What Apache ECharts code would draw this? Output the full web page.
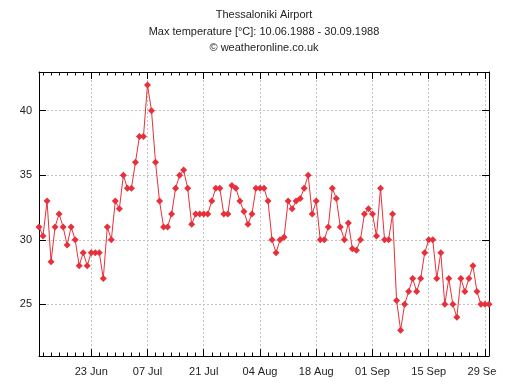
<!DOCTYPE html>
<html><head><meta charset="utf-8">
<script src="https://cdn.jsdelivr.net/npm/echarts@6/dist/echarts.min.js"></script>
<style>html,body{margin:0;padding:0;background:#fff;} #c{width:497px;height:386px;}</style>
</head><body><div id="c"></div>
<script>
const titleLines = ['Thessaloniki Airport', 'Max temperature [°C]: 10.06.1988 - 30.09.1988', '© weatheronline.co.uk'];
const startYear = 1988, startMonth = 5, startDay = 10; // 10 June 1988
const maxTemp = [
  31, 30.3, 33, 28.3, 31, 32, 31, 29.6, 31, 30, 28, 29, 28, 29, 29, 29, 27, 31, 30, 33,
  32.4, 35, 34, 34, 36, 38, 38, 42, 40, 36, 33, 31, 31, 32, 34, 35, 35.4, 34, 31.2, 32,
  32, 32, 32, 33, 34, 34, 32, 32, 34.2, 34, 33, 32.2, 31.2, 32, 34, 34, 34, 33, 30, 29,
  30, 30.2, 33, 32.4, 33, 33.2, 34, 35, 32, 33, 30, 30, 31, 34, 33.2, 31, 30, 31.3, 29.3, 29.2,
  30, 32, 32.4, 32, 30.3, 34, 30, 30, 32, 25.3, 23, 25, 26, 27, 26, 27, 29, 30, 30, 27,
  29, 25, 27, 25, 24, 27, 26, 27, 28, 26, 25, 25, 25
];
const xTickLabels = ['23 Jun', '07 Jul', '21 Jul', '04 Aug', '18 Aug', '01 Sep', '15 Sep', '29 Sep'];
const yTickValues = [25, 30, 35, 40];
const yMin = 21, yMax = 43;
const monthNames = ['Jan','Feb','Mar','Apr','May','Jun','Jul','Aug','Sep','Oct','Nov','Dec'];

const categories = maxTemp.map((_, i) => {
  const d = new Date(Date.UTC(startYear, startMonth, startDay + i));
  return String(d.getUTCDate()).padStart(2, '0') + ' ' + monthNames[d.getUTCMonth()];
});
const isMajor = (i) => xTickLabels.indexOf(categories[i]) >= 0;
const isMinor = (i) => i % 2 === 1;

const FONT = '"Liberation Sans", Arial, sans-serif';
const grid = { left: 39, right: 8, top: 72, bottom: 30, containLabel: false, outerBoundsMode: 'none' };
const axisLine = { show: true, lineStyle: { color: '#000', width: 1 } };
const dotted = { color: '#c4c4c4', width: 1, type: [2, 2] };

const chart = echarts.init(document.getElementById('c'), null, { renderer: 'canvas' });
chart.setOption({
  animation: false,
  backgroundColor: '#fff',
  title: {
    text: titleLines.join('\n'),
    left: 259, textAlign: 'center', top: 2,
    textStyle: { fontFamily: FONT, fontSize: 11, fontWeight: 'normal', color: '#222', lineHeight: 16.5 }
  },
  grid: grid,
  xAxis: [
    {
      type: 'category', data: categories, boundaryGap: false, position: 'bottom',
      axisLine: axisLine,
      axisTick: { show: true, inside: true, length: 7, interval: isMajor, lineStyle: { color: '#000' } },
      axisLabel: { show: true, interval: isMajor, margin: 10, fontFamily: FONT, fontSize: 11, color: '#222', hideOverlap: false },
      splitLine: { show: true, interval: isMajor, lineStyle: dotted }
    },
    {
      type: 'category', data: categories, boundaryGap: false, position: 'bottom',
      axisLine: { show: false },
      axisTick: { show: true, inside: true, length: 3.5, interval: isMinor, lineStyle: { color: '#000' } },
      axisLabel: { show: false }, splitLine: { show: false }
    },
    {
      type: 'category', data: categories, boundaryGap: false, position: 'top',
      axisLine: axisLine,
      axisTick: { show: true, inside: true, length: 7, interval: isMajor, lineStyle: { color: '#000' } },
      axisLabel: { show: false }, splitLine: { show: false }
    },
    {
      type: 'category', data: categories, boundaryGap: false, position: 'top',
      axisLine: { show: false },
      axisTick: { show: true, inside: true, length: 3.5, interval: isMinor, lineStyle: { color: '#000' } },
      axisLabel: { show: false }, splitLine: { show: false }
    }
  ],
  yAxis: [
    {
      type: 'value', min: yMin, max: yMax, position: 'left',
      axisLine: axisLine,
      axisTick: { show: true, inside: true, length: 7, customValues: yTickValues, lineStyle: { color: '#000' } },
      axisLabel: { show: true, customValues: yTickValues, margin: 7, fontFamily: FONT, fontSize: 11, color: '#222' },
      splitLine: { show: true, lineStyle: dotted }
    },
    {
      type: 'value', min: yMin, max: yMax, position: 'right',
      axisLine: axisLine,
      axisTick: { show: true, inside: true, length: 7, customValues: yTickValues, lineStyle: { color: '#000' } },
      axisLabel: { show: false }, splitLine: { show: false }
    }
  ],
  series: [{
    type: 'line', xAxisIndex: 0, yAxisIndex: 0, data: maxTemp,
    symbol: 'diamond', symbolSize: [7, 7], showAllSymbol: true,
    itemStyle: { color: '#e8303a' },
    lineStyle: { color: '#e8303a', width: 1 },
    z: 5
  }]
});
</script></body></html>
